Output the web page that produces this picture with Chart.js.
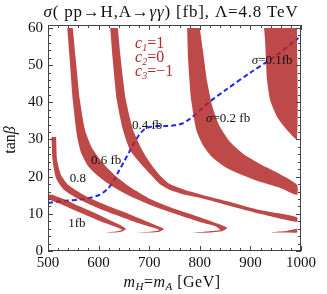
<!DOCTYPE html>
<html><head><meta charset="utf-8">
<script src="https://cdn.jsdelivr.net/npm/chart.js@4"></script>
<style>html,body{margin:0;padding:0;background:#fff}</style>
</head><body>
<canvas id="c" width="327" height="294"></canvas>
<script>
// ---- data (m_H [GeV], tanβ) ----
const xTicks = [500, 600, 700, 800, 900, 1000];
const yTicks = [0, 10, 20, 30, 40, 50, 60];

// band outlines (closed shapes) for each σ contour
const band1fb = [[500,15.3],[508,15.1],[524,14.3],[540,13.5],[553,12.6],[583,10.8],[613,8.9],[638,7.3],[654,5.9],
  [645,5.2],[630,5.0],[613,4.95],[628,5.15],[640,5.4],[646,5.75],
  [632,6.6],[607,7.8],[579,9.4],[547,11.3],[520,12.9],[500,14.0]];
const band08 = [[516,30.7],[518,24.5],[526,20.4],[540,17.8],[565,15.5],[600,13.2],[640,11.0],[680,8.8],[710,7.1],[729,5.9],
  [720,5.2],[700,4.95],[672,4.9],[690,5.05],[710,5.3],[720,5.65],
  [702,6.5],[672,7.8],[632,9.8],[595,11.8],[560,14.0],[532,16.4],[516,19.6],[509,24.5],[507,30.7]];
const band06 = [[549,60],[555,51.4],[563,40.6],[573,32.6],[587,27.7],[607,23.9],[632,20.4],[662,17.2],[702,14.0],[751,11.3],[800,9.1],[836,7.3],[854,6.2],
  [845,5.4],[820,5.0],[785,4.85],[800,5.05],[824,5.35],[840,5.65],
  [830,6.7],[800,7.8],[751,10.0],[702,12.4],[662,14.8],[626,17.5],[599,20.2],[579,22.9],[565,26.6],[557,31.2],[549,40.6],[543,51.4],[538,60]];
const band04 = [[638,60],[644,51.4],[654,40.6],[668,32.6],[686,27.2],[702,23.7],[721,20.4],[741,18.0],[771,16.4],[800,15.3],[860,13.2],[919,11.0],[992,9.1],
  [992,7.8],[919,10.0],[860,12.1],[800,14.3],[771,15.1],[741,16.4],[721,18.0],[702,20.7],[682,23.7],[662,27.2],[648,32.6],[636,40.6],[628,51.4],[623,60]];
const band04low = [[943,5.05],[970,5.35],[992,5.9],[992,5.0],[970,4.95],[943,5.0]];
const band02 = [[775,60],[777,51.4],[783,40.6],[793,32.6],[806,28.5],[824,25.3],[850,22.6],[879,20.7],[919,18.6],[958,17.0],[992,15.1],
  [992,17.8],[958,20.7],[919,23.4],[889,25.8],[860,29.3],[838,33.9],[824,39.3],[814,46.0],[806,54.1],[800,60]];
const band01 = [[927,60],[929,56.8],[933,46.0],[939,40.6],[953,36.0],[972,32.6],[992,30.1],[992,60]];

// blue dashed curve
const lineMass = [500,520,540,560,580,600,610,620,630,640,650,660,670,680,690,700,715,730,750,765,780,800,820,850,900,950,995];
const lineTanb = [12.9,13.3,13.6,13.8,14.2,15.0,15.8,17.0,19.0,21.5,24.0,26.5,29.0,31.2,32.7,33.3,33.6,33.6,33.8,34.3,35.5,37.8,40.2,43.2,48.0,52.5,57.3];

// contour labels
const labelText = ['σ=0.1fb', 'σ=0.2 fb', '0.4 fb', '0.6 fb', '0.8', '1fb'];
const labelMass = [943, 856, 696, 615, 559, 557];
const labelTanb = [51.4, 35.8, 34.0, 24.5, 19.9, 7.8];

const BAND = 'rgba(178,38,38,0.84)';
const SERIF = '"Liberation Serif", "Times New Roman", serif';

function toXY(arr){ return arr.map(p => ({x:p[0], y:p[1]})); }
function bandSet(arr){
  return {data: toXY(arr), fill: 'shape', backgroundColor: BAND, borderColor: 'rgba(0,0,0,0)', borderWidth: 0,
          pointRadius: 0, tension: 0.2, order: 1};
}

function drawRich(ctx, parts, x, y, align, spacing){
  ctx.letterSpacing = (spacing || 0) + 'px';
  let w = 0;
  parts.forEach(p => { ctx.font = p.font; p.w = ctx.measureText(p.t).width; w += p.w; });
  let cx = align === 'center' ? x - w/2 : x;
  parts.forEach(p => {
    ctx.font = p.font; ctx.fillStyle = p.color || '#111';
    ctx.textAlign = 'left'; ctx.textBaseline = 'alphabetic';
    ctx.fillText(p.t, cx, y + (p.dy || 0)); cx += p.w;
  });
  ctx.letterSpacing = '0px';
}

const deco = {
  id: 'deco',
  afterDatasetsDraw(chart){
    const ctx = chart.ctx, a = chart.chartArea, xs = chart.scales.x, ys = chart.scales.y;
    ctx.save();
    // contour labels
    ctx.fillStyle = '#111';
    labelText.forEach((t, i) => {
      const px = xs.getPixelForValue(labelMass[i]), py = ys.getPixelForValue(labelTanb[i]);
      if (t.startsWith('σ')) {
        const it = 'italic 13px ' + SERIF, rm = '13px ' + SERIF;
        drawRich(ctx, [{t:'σ', font: it}, {t: t.slice(1), font: rm}], px, py + 4.5, 'center');
      } else {
        drawRich(ctx, [{t: t, font: '13px ' + SERIF}], px, py + 4.5, 'center');
      }
    });
    // coefficients
    const red = '#b02c2c', it15 = 'italic 16px ' + SERIF, rm15 = '16px ' + SERIF, sub = 'italic 10px ' + SERIF;
    const cx = xs.getPixelForValue(672);
    [['1','=1',56.0],['2','=0',52.2],['3','=\u22121',48.4]].forEach(c => {
      const py = ys.getPixelForValue(c[2]) + 5;
      drawRich(ctx, [{t:'c', font: it15, color: red}, {t:c[0], font: sub, color: red, dy: 3}, {t:c[1], font: rm15, color: red}], cx, py, 'left');
    });
    // frame
    ctx.strokeStyle = '#444'; ctx.lineWidth = 1;
    ctx.strokeRect(Math.round(a.left)+0.5, Math.round(a.top)+0.5, Math.round(a.right-a.left)-1, Math.round(a.bottom-a.top)-1);
    // inward ticks
    ctx.beginPath();
    for (let v = 500; v <= 1000; v += 20) {
      const px = Math.round(xs.getPixelForValue(v)) + 0.5, L = (v % 100 === 0) ? 5 : 3;
      ctx.moveTo(px, a.bottom); ctx.lineTo(px, a.bottom - L);
      ctx.moveTo(px, a.top); ctx.lineTo(px, a.top + L);
    }
    for (let v = 0; v <= 60; v += 2) {
      const py = Math.round(ys.getPixelForValue(v)) + 0.5, L = (v % 10 === 0) ? 5 : 3;
      ctx.moveTo(a.left, py); ctx.lineTo(a.left + L, py);
      ctx.moveTo(a.right, py); ctx.lineTo(a.right - L, py);
    }
    ctx.stroke();
    // title
    const t16 = '17px ' + SERIF, ti16 = 'italic 17px ' + SERIF;
    drawRich(ctx, [{t:'σ', font: ti16}, {t:'( pp\u2192H,A\u2192', font: t16}, {t:'γγ', font: ti16}, {t:') [fb], Λ=4.8 TeV', font: t16}], 171, 17, 'center', 0.8);
    // x axis title
    const m = 'italic 16px ' + SERIF, s = 'italic 11px ' + SERIF, r = '16px ' + SERIF;
    drawRich(ctx, [{t:'m', font:m}, {t:'H', font:s, dy:3}, {t:'=', font:r}, {t:'m', font:m}, {t:'A', font:s, dy:3}, {t:' [GeV]', font:r}], 172, 287, 'center', 0.5);
    // y axis title
    ctx.translate(15, 140); ctx.rotate(-Math.PI/2);
    drawRich(ctx, [{t:'tan', font: r}, {t:'β', font: 'italic 16px ' + SERIF}], 0, 0, 'center');
    ctx.restore();
  }
};

new Chart(document.getElementById('c'), {
  type: 'line',
  data: {
    datasets: [
      {data: lineMass.map((m,i)=>({x:m, y:lineTanb[i]})), borderColor: '#2323ff', borderWidth: 2, borderDash: [5,3],
       pointRadius: 0, fill: false, tension: 0.3, order: 2},
      bandSet(band1fb), bandSet(band08), bandSet(band06), bandSet(band04), bandSet(band04low), bandSet(band02), bandSet(band01)
    ]
  },
  options: {
    responsive: false, animation: false, devicePixelRatio: 1,
    layout: {padding: {left: 0, right: 26, top: 25, bottom: 0}},
    plugins: {legend: {display: false}, tooltip: {enabled: false}},
    scales: {
      x: {type: 'linear', min: 500, max: 1000,
          grid: {display: false, drawTicks: false}, border: {display: false},
          ticks: {stepSize: 100, padding: 3, color: '#111', font: {family: SERIF, size: 15},
                  callback: v => xTicks.includes(v) ? String(v) : ''},
          afterFit: s => { s.height = 43; }},
      y: {type: 'linear', min: 0, max: 60.8,
          grid: {display: false, drawTicks: false}, border: {display: false},
          ticks: {stepSize: 10, padding: 5, includeBounds: false, color: '#111', font: {family: SERIF, size: 15},
                  callback: v => yTicks.includes(v) ? String(v) : ''},
          afterFit: s => { s.width = 48; }}
    }
  },
  plugins: [deco]
});
</script>
</body></html>
